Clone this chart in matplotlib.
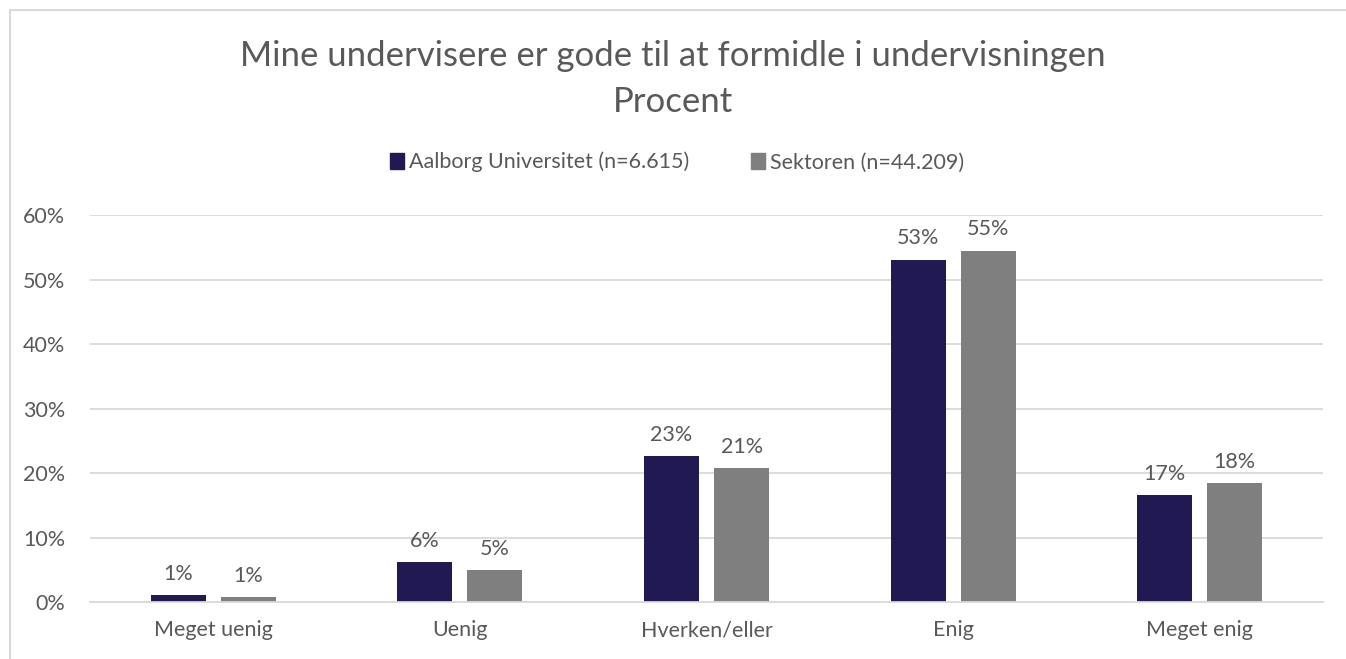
import matplotlib.pyplot as plt
import numpy as np
from matplotlib.patches import Patch, Rectangle

categories = ["Meget uenig", "Uenig", "Hverken/eller", "Enig", "Meget enig"]
aau = [1.1, 6.2, 22.6, 53.1, 16.6]
sektor = [0.8, 5.0, 20.8, 54.5, 18.4]
aau_labels = ["1%", "6%", "23%", "53%", "17%"]
sektor_labels = ["1%", "5%", "21%", "55%", "18%"]
series_names = ["Aalborg Universitet (n=6.615)", "Sektoren (n=44.209)"]

plt.rcParams["font.family"] = ["Lato", "DejaVu Sans"]
text_color = "#595959"
aau_color = "#211A52"
sek_color = "#7F7F7F"

fig = plt.figure(figsize=(13.46, 6.59), dpi=100)
ax = fig.add_axes([0.0669, 0.0865, 0.9161, 0.5872])

x = np.arange(len(categories))
w = 0.223
off = 0.142
b1 = ax.bar(x - off, aau, w, color=aau_color)
b2 = ax.bar(x + off, sektor, w, color=sek_color)

for bars, labels in [(b1, aau_labels), (b2, sektor_labels)]:
    for bar, lab in zip(bars, labels):
        ax.annotate(lab, (bar.get_x() + bar.get_width() / 2, bar.get_height()),
                    xytext=(0, 8), textcoords="offset points", ha="center",
                    va="bottom", fontsize=15.5, color=text_color)

ax.set_xlim(-0.5, len(categories) - 0.5)
ax.set_ylim(0, 60)
ax.set_yticks(range(0, 61, 10))
ax.set_yticklabels([f"{v}%" for v in range(0, 61, 10)])
ax.set_xticks(x)
ax.set_xticklabels(categories)
ax.tick_params(axis="both", length=0, labelsize=15.5, labelcolor=text_color)
ax.tick_params(axis="y", pad=18)
ax.tick_params(axis="x", pad=13)
ax.grid(axis="y", color="#D9D9D9", linewidth=1.3)
ax.set_axisbelow(True)
for s in ["top", "right", "left"]:
    ax.spines[s].set_visible(False)
ax.spines["bottom"].set_color("#D9D9D9")
ax.spines["bottom"].set_linewidth(1.3)

fig.text(0.5, 0.915, "Mine undervisere er gode til at formidle i undervisningen",
         ha="center", va="center", fontsize=25, color=text_color)
fig.text(0.5, 0.845, "Procent", ha="center", va="center", fontsize=25, color=text_color)

handles = [Patch(color=aau_color), Patch(color=sek_color)]
fig.legend(handles, series_names, loc="center", bbox_to_anchor=(0.503, 0.754),
           ncol=2, frameon=False, fontsize=15.5, labelcolor=text_color,
           handlelength=0.65, handleheight=0.8, handletextpad=0.2, columnspacing=2.9)

fig.patches.append(Rectangle((0.0075, -0.01), 1.0, 0.995, transform=fig.transFigure,
                             fill=False, edgecolor="#D9D9D9", linewidth=1.5))

fig.savefig("out.png", dpi=100)
